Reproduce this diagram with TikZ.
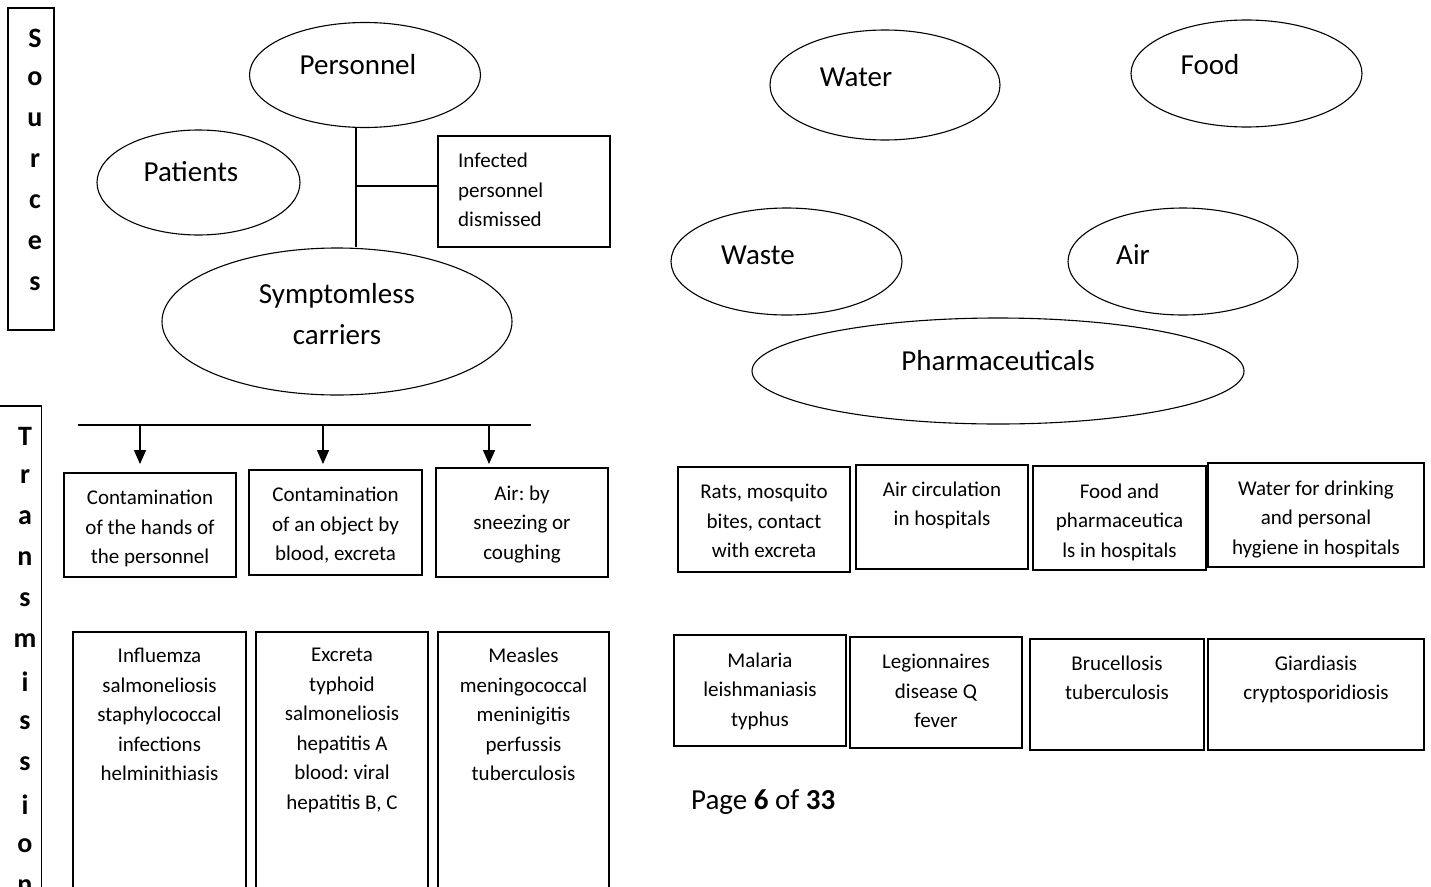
\documentclass[tikz,border=0pt]{standalone}
\usepackage{fontspec}
\setmainfont{Carlito}
\frenchspacing
\usetikzlibrary{positioning, arrows.meta, shapes.geometric}

\tikzset{
  oval/.style={draw, ellipse, line width=1.1pt, inner sep=0pt},
  ovaltext/.style={font=\fontsize{29}{41}\selectfont, align=center, inner sep=0pt},
  box/.style={draw, rectangle, line width=1.5pt, inner sep=0pt},
  boxtext/.style={font=\fontsize{21}{29.5}\selectfont, align=center, inner sep=0pt},
  vletter/.style={font=\fontsize{28}{34}\selectfont\bfseries, inner sep=0pt},
  droparrow/.style={-{Triangle[length=14pt, width=12pt]}, line width=1.4pt},
}

\begin{document}
\begin{tikzpicture}[x=1pt, y=-1pt]
    \clip (0,0) rectangle (1431,886);
    % side bars
    \node[box, minimum width=46, minimum height=322] (srcbar) at (31,169) {};
    \foreach \l [count=\i] in {S,o,u,r,c,e,s} {
    \node[vletter] (src\i) at (35,{38+41*(\i-1)}) {\l};
    }
    \node[box, minimum width=50, minimum height=495, anchor=north east] (trbar) at (42,405) {};
    \foreach \l [count=\i] in {T,r,a,n,s,m,i,s,s,i,o,n} {
    \node[vletter] (tr\i) at (25,{436+41*(\i-1)}) {\l};
    }
    % sources, left
    \node[oval, minimum width=231, minimum height=105] (pers) at (365,75) {};
    \node[ovaltext] (persTxt) at (358,65) {Personnel};
    \node[oval, minimum width=203, minimum height=105] (pat) at (198.5,182.5) {};
    \node[ovaltext] (patTxt) at (191,172) {Patients};
    \node[oval, minimum width=350, minimum height=147] (symp) at (337,321.5) {};
    \node[ovaltext] (sympTxt) at (337,314) {Symptomless\\carriers};
    \node[box, minimum width=172, minimum height=111] (inf) at (524,191.5) {};
    \node[boxtext, align=left, anchor=north west] (infTxt) at (458,153) {Infected\\personnel\\dismissed};
    \coordinate (stem) at (356,0);
    \coordinate (branch) at (356,186);
    \draw[line width=1.2pt] (pers.south -| stem) -- (symp.north -| stem);
    \draw[line width=1.2pt] (branch) -- (branch -| inf.west);
    % sources, right
    \node[oval, minimum width=230, minimum height=110] (water) at (885,85) {};
    \node[ovaltext] (waterTxt) at (856,77) {Water};
    \node[oval, minimum width=231, minimum height=107] (food) at (1246.5,73.5) {};
    \node[ovaltext] (foodTxt) at (1210,65) {Food};
    \node[oval, minimum width=231, minimum height=107] (waste) at (786.5,261.5) {};
    \node[ovaltext] (wasteTxt) at (758,255) {Waste};
    \node[oval, minimum width=230, minimum height=107] (air) at (1183,261.5) {};
    \node[ovaltext] (airTxt) at (1133,255) {Air};
    \node[oval, minimum width=492, minimum height=106] (pharma) at (998,371) {};
    \node[ovaltext] (pharmaTxt) at (998,361) {Pharmaceuticals};
    % transmission, left
    \coordinate (busW) at (78,425);
    \coordinate (busE) at (531,425);
    \draw[line width=1.2pt] (busW) -- (busE);
    \foreach \x [count=\i] in {140,323,489} {
    \coordinate (drop\i) at (\x,425);
    \coordinate (tip\i) at (\x,464);
    \draw[droparrow] (drop\i) -- (tip\i);
    }
    \node[box, minimum width=172, minimum height=104] (hands) at (150,525) {};
    \node[boxtext, below=18pt of hands.north] (handsTxt) {Contamination\\of the hands of\\the personnel};
    \node[box, minimum width=173, minimum height=105] (object) at (335.5,522.5) {};
    \node[boxtext, below=18pt of object.north] (objectTxt) {Contamination\\of an object by\\blood, excreta};
    \node[box, minimum width=172, minimum height=109] (sneeze) at (522,522.5) {};
    \node[boxtext, below=18pt of sneeze.north] (sneezeTxt) {Air: by\\sneezing or\\coughing};
    \node[box, minimum width=173, minimum height=280, anchor=north] (disA) at (159.5,631) {};
    \node[boxtext, below=17pt of disA.north] (disATxt) {Influemza\\salmoneliosis\\staphylococcal\\infections\\helminithiasis};
    \node[box, minimum width=172, minimum height=280, anchor=north] (disB) at (342,631) {};
    \node[boxtext, below=17pt of disB.north] (disBTxt) {Excreta\\typhoid\\salmoneliosis\\hepatitis A\\blood: viral\\hepatitis B, C};
    \node[box, minimum width=171, minimum height=280, anchor=north] (disC) at (523.5,631) {};
    \node[boxtext, below=17pt of disC.north] (disCTxt) {Measles\\meningococcal\\meninigitis\\perfussis\\tuberculosis};
    % transmission, right
    \node[box, minimum width=172, minimum height=105] (rats) at (764,519.5) {};
    \node[boxtext, below=18pt of rats.north] (ratsTxt) {Rats, mosquito\\bites, contact\\with excreta};
    \node[box, minimum width=172, minimum height=104] (aircirc) at (942,517) {};
    \node[boxtext, below=17pt of aircirc.north] (aircircTxt) {Air circulation\\in hospitals};
    \node[box, minimum width=173, minimum height=104] (foodph) at (1119.5,518) {};
    \node[boxtext, below=18pt of foodph.north] (foodphTxt) {Food and\\pharmaceutica\\ls in hospitals};
    \node[box, minimum width=216, minimum height=104] (drink) at (1316,515) {};
    \node[boxtext, below=18pt of drink.north] (drinkTxt) {Water for drinking\\and personal\\hygiene in hospitals};
    \node[box, minimum width=172, minimum height=111] (malaria) at (760,690.5) {};
    \node[boxtext, below=18pt of malaria.north] (malariaTxt) {Malaria\\leishmaniasis\\typhus};
    \node[box, minimum width=172, minimum height=111] (legion) at (936,692.5) {};
    \node[boxtext, below=18pt of legion.north] (legionTxt) {Legionnaires\\disease Q\\fever};
    \node[box, minimum width=174, minimum height=111] (bruc) at (1117,694.5) {};
    \node[boxtext, below=17pt of bruc.north] (brucTxt) {Brucellosis\\tuberculosis};
    \node[box, minimum width=216, minimum height=111] (giard) at (1316,694.5) {};
    \node[boxtext, below=17pt of giard.north] (giardTxt) {Giardiasis\\cryptosporidiosis};
    \node[font=\fontsize{29}{35}\selectfont, inner sep=0pt, anchor=west] (pagenum) at (691,802) {Page \textbf{6} of \textbf{33}};
\end{tikzpicture}
\end{document}
